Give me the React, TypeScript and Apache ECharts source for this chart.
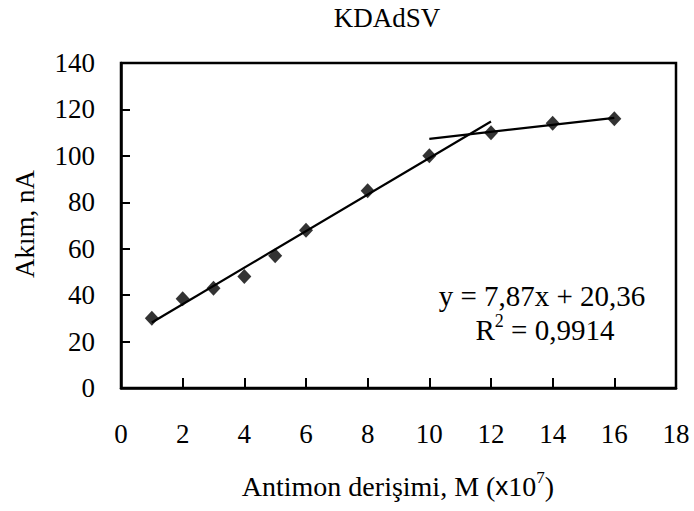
import React, { useEffect, useRef } from "react";
import * as echarts from "echarts";

// Measured current vs. antimony concentration
const concentration = [1, 2, 3, 4, 5, 6, 8, 10, 12, 14, 16];
const current = [30, 38.5, 43, 48, 57, 68, 85, 100, 110, 114, 116];

// Linear fit shown on the chart, drawn over its range
const fitSlope = 7.87;
const fitIntercept = 20.36;
const fitRange = [1, 12];
const fitLabel = "y = 7,87x + 20,36";
const r2Label = "0,9914";

// Plateau trend: fitted to the last three points, extended back to x = 10
const plateauCount = 3;
const plateauRange = [10, 16];

const xTicks = { min: 0, max: 18, interval: 2 };
const yTicks = { min: 0, max: 140, interval: 20 };

const titleText = "KDAdSV";
const yAxisTitle = "Akım, nA";

const SERIF = "'Liberation Serif', 'Times New Roman', serif";
const SANS = "'Liberation Sans', Arial, sans-serif";

function leastSquares(xs: number[], ys: number[]) {
  const n = xs.length;
  const mx = xs.reduce((a, b) => a + b, 0) / n;
  const my = ys.reduce((a, b) => a + b, 0) / n;
  let sxy = 0;
  let sxx = 0;
  for (let i = 0; i < n; i++) {
    sxy += (xs[i] - mx) * (ys[i] - my);
    sxx += (xs[i] - mx) * (xs[i] - mx);
  }
  const slope = sxy / sxx;
  return { slope, intercept: my - slope * mx };
}

type Piece = { text: string; family: string; size: number; dy?: number };

function textWidth(p: Piece) {
  const t = new echarts.graphic.Text({
    style: { text: p.text, fontFamily: p.family, fontSize: p.size },
  });
  return t.getBoundingRect().width;
}

// Lays a run of differently styled pieces side by side, centred on (cx, cy)
function inlineText(pieces: Piece[], cx: number, cy: number) {
  const widths = pieces.map(textWidth);
  const total = widths.reduce((a, b) => a + b, 0);
  let x = cx - total / 2;
  return pieces.map((p, i) => {
    const el = {
      type: "text",
      x,
      y: cy + (p.dy || 0),
      z: 10,
      style: {
        text: p.text,
        fontFamily: p.family,
        fontSize: p.size,
        fill: "#000",
        textAlign: "left",
        textVerticalAlign: "middle",
      },
    };
    x += widths[i];
    return el;
  });
}

export default function App() {
  const ref = useRef<HTMLDivElement>(null);

  useEffect(() => {
    if (!ref.current) return;
    const chart = echarts.init(ref.current, undefined, { renderer: "svg" });

    const fitLine = fitRange.map((x) => [x, fitSlope * x + fitIntercept]);
    const plateau = leastSquares(
      concentration.slice(-plateauCount),
      current.slice(-plateauCount)
    );
    const plateauLine = plateauRange.map((x) => [
      x,
      plateau.slope * x + plateau.intercept,
    ]);

    const xTitle = inlineText(
      [
        { text: "Antimon derişimi, M (", family: SERIF, size: 28 },
        { text: "x", family: SANS, size: 26 },
        { text: "10", family: SERIF, size: 28 },
        { text: "7", family: SERIF, size: 17, dy: -9 },
        { text: ")", family: SERIF, size: 28 },
      ],
      398,
      486
    );

    const r2Text = inlineText(
      [
        { text: "R", family: SERIF, size: 29 },
        { text: "2", family: SERIF, size: 18, dy: -9 },
        { text: " = " + r2Label, family: SERIF, size: 29 },
      ],
      545,
      330
    );

    chart.setOption({
      animation: false,
      backgroundColor: "#ffffff",
      grid: {
        left: 121,
        top: 63,
        width: 555,
        height: 325,
        show: true,
        borderColor: "#000",
        borderWidth: 2.5,
        backgroundColor: "transparent",
      },
      xAxis: {
        type: "value",
        min: xTicks.min,
        max: xTicks.max,
        interval: xTicks.interval,
        splitLine: { show: false },
        axisLine: { show: true, lineStyle: { color: "#000", width: 2.5 } },
        axisTick: {
          show: true,
          inside: true,
          length: 10,
          lineStyle: { color: "#000", width: 2 },
        },
        axisLabel: {
          color: "#000",
          fontFamily: SERIF,
          fontSize: 27,
          margin: 32,
        },
      },
      yAxis: {
        type: "value",
        min: yTicks.min,
        max: yTicks.max,
        interval: yTicks.interval,
        splitLine: { show: false },
        axisLine: { show: true, lineStyle: { color: "#000", width: 2.5 } },
        axisTick: {
          show: true,
          inside: true,
          length: 9,
          lineStyle: { color: "#000", width: 2 },
        },
        axisLabel: {
          color: "#000",
          fontFamily: SERIF,
          fontSize: 27,
          margin: 26,
        },
      },
      series: [
        {
          type: "line",
          data: fitLine,
          showSymbol: false,
          symbol: "none",
          lineStyle: { color: "#000", width: 2.2 },
          z: 2,
        },
        {
          type: "line",
          data: plateauLine,
          showSymbol: false,
          symbol: "none",
          lineStyle: { color: "#000", width: 2.2 },
          z: 2,
        },
        {
          type: "scatter",
          data: concentration.map((x, i) => [x, current[i]]),
          symbol: "diamond",
          symbolSize: [14, 15],
          itemStyle: { color: "#000" },
          z: 3,
        },
      ],
      graphic: [
        {
          type: "text",
          x: 387,
          y: 18,
          style: {
            text: titleText,
            fontFamily: SERIF,
            fontSize: 27,
            fill: "#000",
            textAlign: "center",
            textVerticalAlign: "middle",
          },
        },
        {
          type: "text",
          x: 25,
          y: 224,
          rotation: Math.PI / 2,
          style: {
            text: yAxisTitle,
            fontFamily: SERIF,
            fontSize: 27,
            fill: "#000",
            textAlign: "center",
            textVerticalAlign: "middle",
          },
        },
        ...xTitle,
        {
          type: "text",
          x: 542,
          y: 296,
          style: {
            text: fitLabel,
            fontFamily: SERIF,
            fontSize: 29,
            fill: "#000",
            textAlign: "center",
            textVerticalAlign: "middle",
          },
        },
        ...r2Text,
      ],
    });

    return () => chart.dispose();
  }, []);

  return (
    <div
      ref={ref}
      style={{
        position: "fixed",
        left: 0,
        top: 0,
        width: 694,
        height: 511,
        background: "#fff",
      }}
    />
  );
}
